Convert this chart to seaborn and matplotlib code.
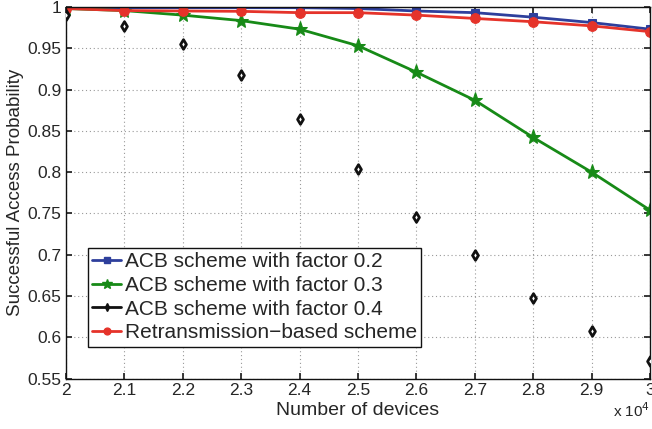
import matplotlib

matplotlib.use("Agg")
import matplotlib.pyplot as plt
import pandas as pd
import seaborn as sns
from matplotlib.lines import Line2D

sns.set_theme(style="white")
plt.rcParams["font.family"] = ["Liberation Sans", "DejaVu Sans"]

devices = [2.0, 2.1, 2.2, 2.3, 2.4, 2.5, 2.6, 2.7, 2.8, 2.9, 3.0]
acb_02 = [0.999, 0.999, 0.999, 0.999, 0.999, 0.998, 0.995, 0.993, 0.9875, 0.981, 0.973]
acb_03 = [0.998, 0.9955, 0.990, 0.9834, 0.973, 0.953, 0.921, 0.887, 0.842, 0.800, 0.754]
acb_04 = [0.990, 0.977, 0.955, 0.917, 0.8645, 0.804, 0.746, 0.700, 0.648, 0.608, 0.572]
retrans = [0.998, 0.9955, 0.995, 0.9946, 0.993, 0.993, 0.990, 0.986, 0.982, 0.977, 0.970]

labels = [
    "ACB scheme with factor 0.2",
    "ACB scheme with factor 0.3",
    "ACB scheme with factor 0.4",
    "Retransmission\u2212based scheme",
]
x_ticks = [2, 2.1, 2.2, 2.3, 2.4, 2.5, 2.6, 2.7, 2.8, 2.9, 3]
x_tick_labels = ["2", "2.1", "2.2", "2.3", "2.4", "2.5", "2.6", "2.7", "2.8", "2.9", "3"]
y_ticks = [0.55, 0.6, 0.65, 0.7, 0.75, 0.8, 0.85, 0.9, 0.95, 1]
y_tick_labels = ["0.55", "0.6", "0.65", "0.7", "0.75", "0.8", "0.85", "0.9", "0.95", "1"]

colors = ["#2e3f9c", "#178a17", "#111111", "#e5332a"]
markers = ["s", "*", "d", "o"]
msizes = [6, 11, 6, 7]

df = pd.DataFrame({"devices": devices, "a2": acb_02, "a3": acb_03, "a4": acb_04, "rt": retrans})

fig, ax = plt.subplots(figsize=(6.52, 4.29), dpi=100)
fig.subplots_adjust(left=0.101, right=0.997, top=0.984, bottom=0.117)

ax.grid(True, color="#999999", linestyle=(0, (1, 2.5)), linewidth=0.8)
ax.set_axisbelow(True)

sns.lineplot(data=df, x="devices", y="a2", ax=ax, color=colors[0], marker="s",
             markersize=6, markeredgecolor=colors[0], linewidth=2)
sns.lineplot(data=df, x="devices", y="a3", ax=ax, color=colors[1], marker="*",
             markersize=11, markeredgecolor=colors[1], linewidth=2)
sns.scatterplot(data=df, x="devices", y="a4", ax=ax, marker="d", s=24,
                facecolor="white", edgecolor="#111111", linewidth=2.0, zorder=4)
sns.lineplot(data=df, x="devices", y="rt", ax=ax, color=colors[3], marker="o",
             markersize=7, markeredgecolor=colors[3], linewidth=2)

ax.set_xlim(2, 3)
ax.set_ylim(0.55, 1)
ax.set_xticks(x_ticks)
ax.set_xticklabels(x_tick_labels, fontsize=12.5)
ax.set_yticks(y_ticks)
ax.set_yticklabels(y_tick_labels, fontsize=12.5)
ax.tick_params(direction="in", length=4, top=True, right=True, bottom=True, left=True,
               color="#222222", pad=3)
for sp in ax.spines.values():
    sp.set_color("#111111")
    sp.set_linewidth(1.0)

ax.set_xlabel("Number of devices", fontsize=14, labelpad=3)
ax.set_ylabel("Successful Access Probability", fontsize=13.5, labelpad=3)
ax.text(1.0, -0.06, "x 10$^{4}$", transform=ax.transAxes, ha="right", va="top", fontsize=11)

handles = [
    Line2D([], [], color=c, marker=m, markersize=ms * 0.7, linewidth=2, markeredgecolor=c)
    for c, m, ms in zip(colors, markers, msizes)
]
ax.legend(handles, labels, loc="lower left", bbox_to_anchor=(0.0377, 0.086), fontsize=15,
          frameon=True, fancybox=False, edgecolor="#111111", framealpha=1,
          handlelength=1.35, handletextpad=0.2, borderpad=0.22, labelspacing=0.22,
          borderaxespad=0)
ax.get_legend().get_frame().set_linewidth(1.0)

plt.savefig("out.png", dpi=100)
plt.close("all")
